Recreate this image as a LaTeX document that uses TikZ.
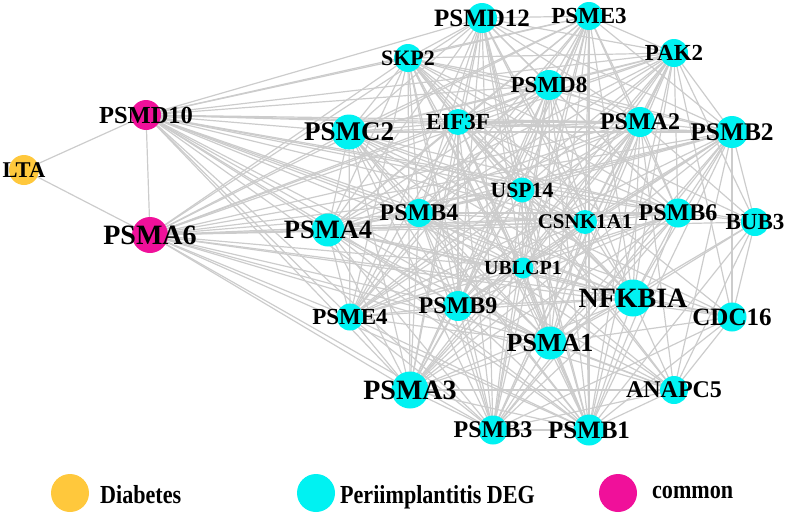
\documentclass[tikz,border=0pt]{standalone}
\usepackage{fontspec}
\setmainfont{Liberation Serif}
\usetikzlibrary{backgrounds}
\definecolor{cdiab}{HTML}{FFC83C}
\definecolor{cdeg}{HTML}{00F2F2}
\definecolor{ccom}{HTML}{F0109A}
\definecolor{cedge}{HTML}{CCCCCC}
\tikzset{
  gene/.style={circle, fill=#1, draw=none, inner sep=0pt},
  lbl/.style={font=\bfseries\fontsize{#1}{#1}\selectfont, inner sep=0pt, text=black},
  edge/.style={draw=cedge, line width=1.2pt},
  legtext/.style={font=\bfseries\fontsize{26}{26}\selectfont, inner sep=0pt, xscale=0.85, anchor=base west}
}
\begin{document}
\begin{tikzpicture}[x=1pt,y=-1pt]
\useasboundingbox (0,0) rectangle (786,514);
% nodes
\node[gene=cdiab, minimum size=30, label={[lbl=22.5]center:LTA}] (LTA) at (24,170) {};
\node[gene=ccom, minimum size=30, label={[lbl=24.5]center:PSMD10}] (PSMD10) at (146,115) {};
\node[gene=ccom, minimum size=36, label={[lbl=28]center:PSMA6}] (PSMA6) at (150,235) {};
\node[gene=cdeg, minimum size=30, label={[lbl=25]center:PSMD12}] (PSMD12) at (482,18) {};
\node[gene=cdeg, minimum size=28, label={[lbl=22]center:SKP2}] (SKP2) at (408,58) {};
\node[gene=cdeg, minimum size=30, label={[lbl=23]center:PSMD8}] (PSMD8) at (549,85) {};
\node[gene=cdeg, minimum size=35, label={[lbl=27]center:PSMC2}] (PSMC2) at (349,132) {};
\node[gene=cdeg, minimum size=26, label={[lbl=23]center:EIF3F}] (EIF3F) at (458,122) {};
\node[gene=cdeg, minimum size=25, label={[lbl=21.7]center:USP14}] (USP14) at (522,190) {};
\node[gene=cdeg, minimum size=28, label={[lbl=24]center:PSMB4}] (PSMB4) at (419,213) {};
\node[gene=cdeg, minimum size=33, label={[lbl=26.5]center:PSMA4}] (PSMA4) at (328,230) {};
\node[gene=cdeg, minimum size=28, label={[lbl=23]center:PSME3}] (PSME3) at (589,16) {};
\node[gene=cdeg, minimum size=28, label={[lbl=23]center:PAK2}] (PAK2) at (674,53) {};
\node[gene=cdeg, minimum size=30, label={[lbl=24]center:PSMA2}] (PSMA2) at (640,122) {};
\node[gene=cdeg, minimum size=32, label={[lbl=25.4]center:PSMB2}] (PSMB2) at (732,132) {};
\node[gene=cdeg, minimum size=24, label={[lbl=21]center:CSNK1A1}] (CSNK1A1) at (585,222) {};
\node[gene=cdeg, minimum size=29, label={[lbl=24]center:PSMB6}] (PSMB6) at (678,213) {};
\node[gene=cdeg, minimum size=28, label={[lbl=23]center:BUB3}] (BUB3) at (755,222) {};
\node[gene=cdeg, minimum size=21, label={[lbl=20]center:UBLCP1}] (UBLCP1) at (523,268) {};
\node[gene=cdeg, minimum size=30, label={[lbl=24]center:PSMB9}] (PSMB9) at (458,306) {};
\node[gene=cdeg, minimum size=27, label={[lbl=23]center:PSME4}] (PSME4) at (350,317) {};
\node[gene=cdeg, minimum size=33, label={[lbl=26]center:PSMA1}] (PSMA1) at (550,343) {};
\node[gene=cdeg, minimum size=37, label={[lbl=28]center:PSMA3}] (PSMA3) at (410,390) {};
\node[gene=cdeg, minimum size=29, label={[lbl=24]center:PSMB3}] (PSMB3) at (493,430) {};
\node[gene=cdeg, minimum size=37, label={[lbl=28]center:NFKBIA}] (NFKBIA) at (633,298) {};
\node[gene=cdeg, minimum size=29, label={[lbl=25]center:CDC16}] (CDC16) at (732,317) {};
\node[gene=cdeg, minimum size=28, label={[lbl=24]center:ANAPC5}] (ANAPC5) at (674,390) {};
\node[gene=cdeg, minimum size=31, label={[lbl=25]center:PSMB1}] (PSMB1) at (589,430) {};
% edges
\begin{pgfonlayer}{background}
\draw[edge] (LTA.center) -- (PSMD10.center);
\draw[edge] (LTA.center) -- (PSMA6.center);
\foreach \a [count=\i] in {PSMD10,PSMA6,PSMD12,PSME3,PSMD8,PSMC2,EIF3F,PSMA2,PSMB2,USP14,PSMB4,PSMA4,CSNK1A1,PSMB6,UBLCP1,PSMB9,PSME4,PSMA1,PSMA3,PSMB3,PSMB1,NFKBIA,SKP2,PAK2}{
  \foreach \b [count=\j] in {PSMD10,PSMA6,PSMD12,PSME3,PSMD8,PSMC2,EIF3F,PSMA2,PSMB2,USP14,PSMB4,PSMA4,CSNK1A1,PSMB6,UBLCP1,PSMB9,PSME4,PSMA1,PSMA3,PSMB3,PSMB1,NFKBIA,SKP2,PAK2}{
    \ifnum\j>\i \draw[edge] (\a.center) -- (\b.center);\fi
  }
}
\foreach \a/\b in {BUB3/CDC16,BUB3/ANAPC5,CDC16/ANAPC5,BUB3/PSMB2,BUB3/PSMB6,BUB3/NFKBIA,BUB3/PSMA1,BUB3/PSMA2,BUB3/PAK2,BUB3/SKP2,BUB3/PSMB1,BUB3/PSMD10,BUB3/PSMA6,
  CDC16/PSMB2,CDC16/NFKBIA,CDC16/PSMA1,CDC16/PSMB1,CDC16/SKP2,CDC16/PSMB3,CDC16/PSMA4,CDC16/PSMC2,CDC16/PSMD10,CDC16/PSMA6,CDC16/PAK2,
  ANAPC5/NFKBIA,ANAPC5/PSMA1,ANAPC5/PSMB1,ANAPC5/PSMB3,ANAPC5/SKP2,ANAPC5/PSMA2,ANAPC5/PSMB2,ANAPC5/USP14,ANAPC5/PSMB9,ANAPC5/UBLCP1,ANAPC5/PSMA3,ANAPC5/PSMB4,ANAPC5/PSMD10,ANAPC5/PSMA6}{
  \draw[edge] (\a.center) -- (\b.center);
}
\end{pgfonlayer}
% legend
\node[gene=cdiab, minimum size=38] (Ldiab) at (70,493) {};
\node[legtext] (Tdiab) at (100,503) {Diabetes};
\node[gene=cdeg, minimum size=38] (Ldeg) at (316,493) {};
\node[legtext] (Tdeg) at (340,503) {Periimplantitis DEG};
\node[gene=ccom, minimum size=38] (Lcom) at (618,493) {};
\node[legtext] (Tcom) at (652,498) {common};
\end{tikzpicture}
\end{document}
